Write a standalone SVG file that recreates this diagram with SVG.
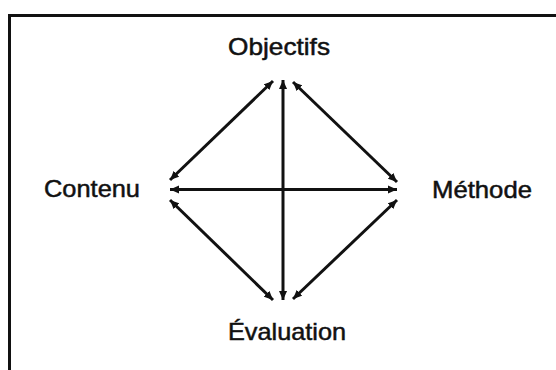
<svg xmlns="http://www.w3.org/2000/svg" width="556" height="370" viewBox="0 0 556 370">
<style>
.lbl{font-family:"Liberation Sans",Arial,sans-serif;font-size:24px;fill:#111;stroke:#111;stroke-width:0.5;}
.con{stroke:#111;stroke-width:3;fill:none;marker-start:url(#ah);marker-end:url(#ah);}
.frame{stroke:#111;stroke-width:3;fill:none;}
</style>
<defs>
<marker id="ah" viewBox="0 0 10 10" refX="10" refY="5" markerWidth="9" markerHeight="9" markerUnits="userSpaceOnUse" orient="auto-start-reverse">
<path d="M0,0.5 L10,5 L0,9.5 z" fill="#111"/>
</marker>
</defs>
<rect width="556" height="370" fill="#fff"/>
<path class="frame" d="M9.5,370 V15.5 H556"/>
<g id="connectors">
<line class="con" x1="170" y1="180" x2="273" y2="81"/>
<line class="con" x1="293" y1="82" x2="397" y2="182"/>
<line class="con" x1="170" y1="189.5" x2="397" y2="189.5"/>
<line class="con" x1="283" y1="80" x2="283" y2="300"/>
<line class="con" x1="170" y1="200" x2="273" y2="300"/>
<line class="con" x1="397" y1="200" x2="293" y2="299"/>
</g>
<g id="objectifs"><text class="lbl" x="228" y="55" textLength="102" lengthAdjust="spacingAndGlyphs">Objectifs</text></g>
<g id="contenu"><text class="lbl" x="44" y="197" textLength="96" lengthAdjust="spacingAndGlyphs">Contenu</text></g>
<g id="methode"><text class="lbl" x="432" y="198" textLength="100" lengthAdjust="spacingAndGlyphs">Méthode</text></g>
<g id="evaluation"><text class="lbl" x="228" y="340" textLength="118" lengthAdjust="spacingAndGlyphs">Évaluation</text></g>
</svg>
